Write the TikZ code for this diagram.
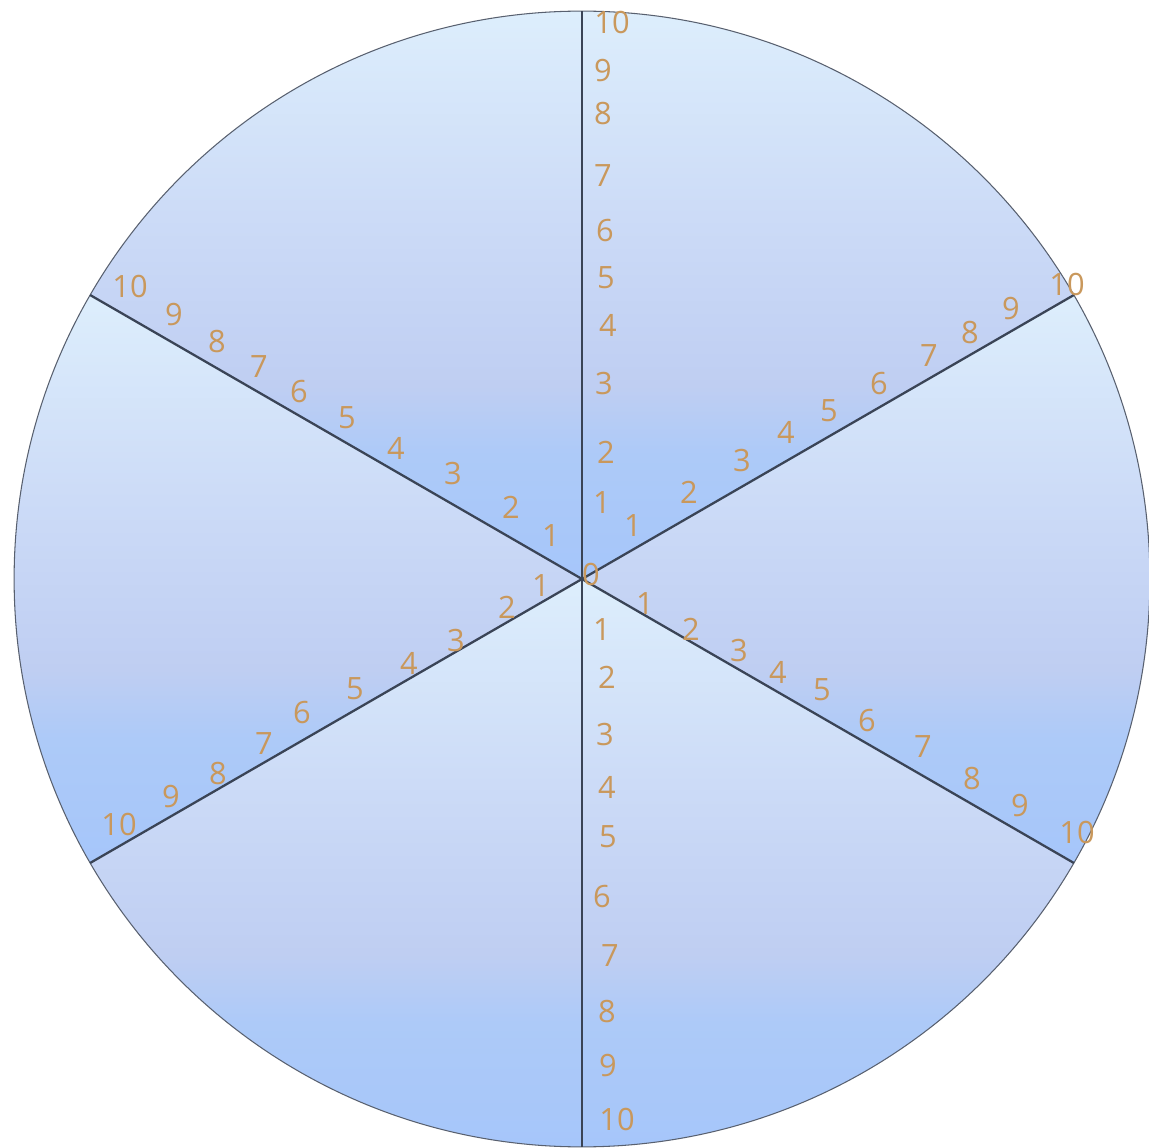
\documentclass[tikz,border=0pt]{standalone}
\usepackage{fontspec}
\setmainfont{Open Sans}
\usetikzlibrary{calc}
\definecolor{numcol}{RGB}{201,152,92}
\definecolor{spokecol}{RGB}{58,68,86}
\definecolor{btop}{RGB}{221,238,252}
\definecolor{bmid}{RGB}{204,219,247}
\definecolor{bgray}{RGB}{191,206,242}
\definecolor{bblue}{RGB}{173,202,248}
\definecolor{bbot}{RGB}{166,198,250}
\pgfdeclareverticalshading{band}{100bp}{color(0bp)=(bbot); color(25bp)=(bbot); color(36bp)=(bblue); color(42bp)=(bgray); color(57bp)=(bmid); color(75bp)=(btop); color(100bp)=(btop)}
\begin{document}
\begin{tikzpicture}[x=0.02cm,y=-0.02cm,
    num/.style={text=numcol,font=\fontsize{17.5}{20}\selectfont,inner sep=0pt},
    spoke/.style={draw=spokecol,line width=1.3pt},
    sector/.style={shading=band}]
            \useasboundingbox (0,0) rectangle (1149,1148);
            \coordinate (o) at (582,579);
            % six sectors, each with its own banded fill
            \foreach \a in {-30,30,90,150,210,270}
                \shade[sector] (o) -- ++(\a:11.36cm) arc[start angle=\a, end angle=\a+60, radius=11.36cm] -- cycle;
            \draw[draw=spokecol!85,line width=0.6pt] (o) circle [radius=11.36cm];
            \foreach \a/\n in {90/t,30/ur,150/ul,210/ll,-30/lr,270/b}
                \coordinate (e-\n) at ($(o)+(\a:11.36cm)$);
            \foreach \n in {ur,ul,ll,lr}
                \draw[spoke] (o) -- (e-\n);
            \draw[spoke,line width=0.8pt] (e-t) -- (e-b);
            
            \node[num] (zero) at (591,575) {0};
            % numbers along the spokes
            \foreach \i/\x/\y in {1/602/503,2/606/452,3/604/384,4/608/325,5/606/278,6/605/231,7/603/176,8/603/114,9/603/71,10/612/23}
                \node[num] (t\i) at (\x,\y) {\i};
            \foreach \i/\x/\y in {1/633/526,2/689/492,3/742/461,4/786/432,5/829/411,6/879/384,7/929/356,8/970/333,9/1011/309,10/1067/285}
                \node[num] (ur\i) at (\x,\y) {\i};
            \foreach \i/\x/\y in {1/551/536,2/511/507,3/453/474,4/396/448,5/347/418,6/299/392,7/259/367,8/217/342,9/174/315,10/130/287}
                \node[num] (ul\i) at (\x,\y) {\i};
            \foreach \i/\x/\y in {1/541/586,2/507/607,3/456/641,4/409/663,5/355/689,6/302/713,7/264/744,8/218/774,9/171/797,10/119/824}
                \node[num] (ll\i) at (\x,\y) {\i};
            \foreach \i/\x/\y in {1/645/604,2/691/629,3/739/651,4/778/672,5/822/690,6/867/721,7/923/747,8/972/779,9/1020/806,10/1077/832}
                \node[num] (lr\i) at (\x,\y) {\i};
            \foreach \i/\x/\y in {1/602/630,2/607/677,3/605/735,4/607/787,5/608/837,6/602/897,7/610/956,8/607/1012,9/608/1066,10/617/1119}
                \node[num] (b\i) at (\x,\y) {\i};
        \end{tikzpicture}
\end{document}
